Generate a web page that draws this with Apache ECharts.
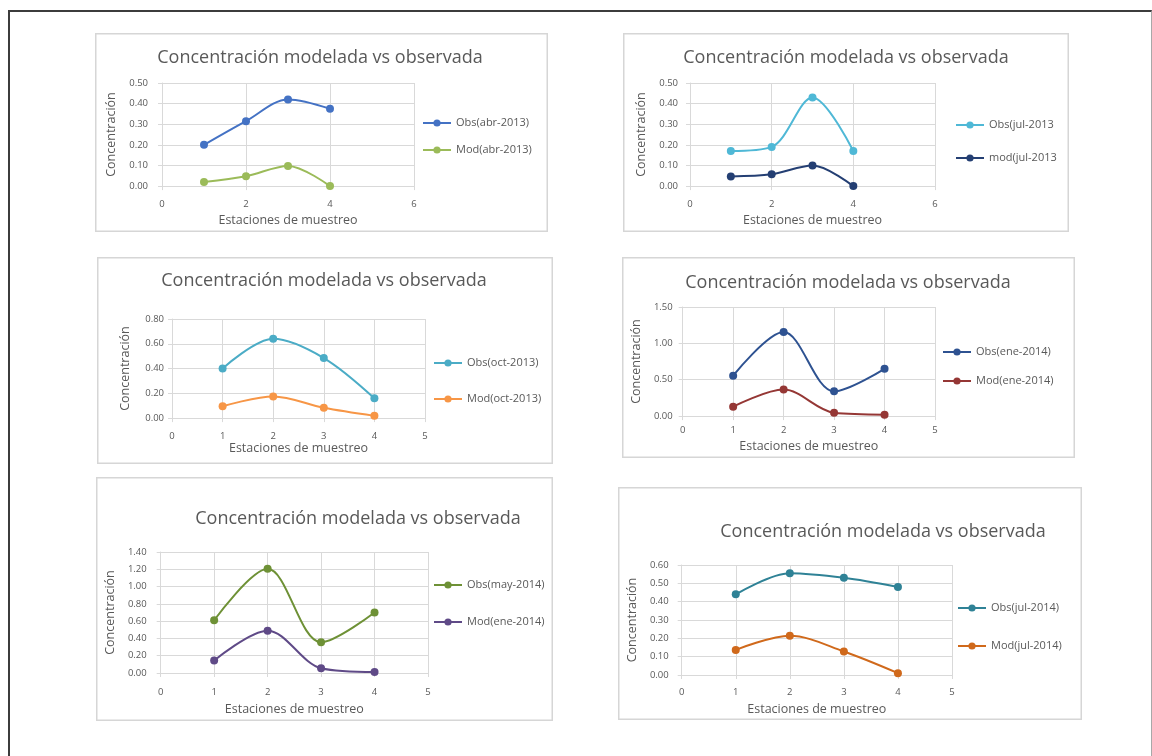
<!DOCTYPE html>
<html>
<head>
<meta charset="utf-8">
<script src="https://cdn.jsdelivr.net/npm/echarts@6/dist/echarts.min.js"></script>
<style>
html,body{margin:0;padding:0;background:#fff;width:1152px;height:756px;overflow:hidden;position:relative}
#frame{position:absolute;left:8px;top:10px;width:1144px;height:800px;border-top:2.5px solid #3c3c3c;border-left:2.5px solid #3c3c3c;border-right:1px solid #a8a8a8;box-sizing:border-box}
.panel{position:absolute}
</style>
</head>
<body>
<div id="frame"></div>
<div id="p0" class="panel"></div>
<div id="p1" class="panel"></div>
<div id="p2" class="panel"></div>
<div id="p3" class="panel"></div>
<div id="p4" class="panel"></div>
<div id="p5" class="panel"></div>
<script>
// ---------- data ----------
const stations = [1, 2, 3, 4];
const titleText = 'Concentración modelada vs observada';
const xAxisName = 'Estaciones de muestreo';
const yAxisName = 'Concentración';

const obsAbr2013 = [0.20, 0.315, 0.42, 0.375];
const modAbr2013 = [0.02, 0.048, 0.098, 0.00];
const obsJul2013 = [0.17, 0.19, 0.43, 0.17];
const modJul2013 = [0.047, 0.057, 0.10, 0.00];
const obsOct2013 = [0.40, 0.64, 0.485, 0.16];
const modOct2013 = [0.095, 0.175, 0.083, 0.018];
const obsEne2014 = [0.555, 1.155, 0.34, 0.65];
const modEne2014 = [0.13, 0.365, 0.045, 0.02];
const obsMay2014 = [0.61, 1.205, 0.355, 0.70];
const modEne2014b = [0.145, 0.49, 0.055, 0.012];
const obsJul2014 = [0.44, 0.555, 0.53, 0.48];
const modJul2014 = [0.137, 0.214, 0.128, 0.01];

const seriesValues = [
  [obsAbr2013, modAbr2013],
  [obsJul2013, modJul2013],
  [obsOct2013, modOct2013],
  [obsEne2014, modEne2014],
  [obsMay2014, modEne2014b],
  [obsJul2014, modJul2014]
];
const seriesNames = [
  ['Obs(abr-2013)', 'Mod(abr-2013)'],
  ['Obs(jul-2013', 'mod(jul-2013'],
  ['Obs(oct-2013)', 'Mod(oct-2013)'],
  ['Obs(ene-2014)', 'Mod(ene-2014)'],
  ['Obs(may-2014)', 'Mod(ene-2014)'],
  ['Obs(jul-2014)', 'Mod(jul-2014)']
];
const xMax = [6, 6, 5, 5, 5, 5];
const xInterval = [2, 2, 1, 1, 1, 1];
const yMax = [0.5, 0.5, 0.8, 1.5, 1.4, 0.6];
const yInterval = [0.1, 0.1, 0.2, 0.5, 0.2, 0.1];

// ---------- styles / layout (absolute page pixels) ----------
const colors = [
  ['#4472C4', '#9BBB59'],
  ['#4FB8D6', '#243F73'],
  ['#4BACC6', '#F79646'],
  ['#2E5291', '#953735'],
  ['#6E9136', '#5F4A87'],
  ['#2F8296', '#D0691B']
];
const layout = [
  {box:[95,33,453,199],  gx0:162, gx1:414, gyT:83,  gyB:190, tx:320, ty:58,  lgx:422, lgy:[122,149], yGap:40, yMargin:14, xGap:22, xMargin:13},
  {box:[623,33,446,199], gx0:690, gx1:935, gyT:83,  gyB:190, tx:846, ty:58,  lgx:955, lgy:[124,157], yGap:40, yMargin:12, xGap:22, xMargin:13},
  {box:[97,257,456,207], gx0:172, gx1:425, gyT:319, gyB:425, tx:324, ty:281, lgx:433, lgy:[362,398], yGap:40, yMargin:8,  xGap:21, xMargin:13},
  {box:[622,257,453,201],gx0:678, gx1:935, gyT:307, gyB:422, tx:848, ty:283, lgx:942, lgy:[351,380], yGap:36, yMargin:10, xGap:17, xMargin:9},
  {box:[96,477,457,244], gx0:154, gx1:428, gyT:552, gyB:673, tx:358, ty:519, lgx:433, lgy:[584,621], yGap:39, yMargin:14, xGap:30, xMargin:14},
  {box:[618,487,464,233],gx0:678, gx1:952, gyT:565, gyB:675, tx:883, ty:532, lgx:957, lgy:[607,645], yGap:39, yMargin:13, xGap:28, xMargin:12}
];
const FONT = '"Open Sans", "Liberation Sans", sans-serif';
const TXT = '#595959';
const GRID = '#d9d9d9';

layout.forEach((L, i) => {
  const [bx, by, bw, bh] = L.box;
  const div = document.getElementById('p' + i);
  div.style.left = bx + 'px';
  div.style.top = by + 'px';
  div.style.width = bw + 'px';
  div.style.height = bh + 'px';
  const chart = echarts.init(div, null, {renderer: 'canvas', width: bw, height: bh});
  const names = seriesNames[i];
  const vals = seriesValues[i];
  const option = {
    animation: false,
    textStyle: {fontFamily: FONT},
    graphic: [
      {type: 'rect', silent: true, shape: {x: 0.75, y: 0.75, width: bw - 1.5, height: bh - 1.5},
       style: {fill: 'none', stroke: '#d6d6d6', lineWidth: 1.5}},
      {type: 'text', silent: true, x: L.tx - bx, y: L.ty - by,
       style: {text: titleText, fontSize: 18, fontFamily: FONT, fill: TXT, align: 'center', verticalAlign: 'middle'}}
    ],
    grid: {left: L.gx0 - bx, top: L.gyT - by, width: L.gx1 - L.gx0, height: L.gyB - L.gyT},
    legend: [0, 1].map(k => ({
      data: [names[k]], orient: 'vertical', left: L.lgx - bx, top: L.lgy[k] - by - 4.5,
      itemWidth: 28, itemHeight: 9, itemGap: 0, padding: 0, selectedMode: false,
      textStyle: {fontSize: 11, color: TXT, fontFamily: FONT}
    })),
    xAxis: {
      type: 'value', min: 0, max: xMax[i], interval: xInterval[i],
      name: xAxisName, nameLocation: 'middle', nameGap: L.xGap,
      nameTextStyle: {fontSize: 12.5, color: TXT, fontFamily: FONT},
      axisLine: {show: true, lineStyle: {color: GRID, width: 1}},
      axisTick: {show: true, length: 4, lineStyle: {color: GRID}},
      axisLabel: {margin: L.xMargin, fontSize: 9.5, color: TXT, fontFamily: FONT},
      splitLine: {show: true, lineStyle: {color: GRID, width: 1}}
    },
    yAxis: {
      type: 'value', min: 0, max: yMax[i], interval: yInterval[i],
      name: yAxisName, nameLocation: 'middle', nameGap: L.yGap, nameRotate: 90,
      nameTextStyle: {fontSize: 12.5, color: TXT, fontFamily: FONT},
      axisLine: {show: true, lineStyle: {color: GRID, width: 1}},
      axisTick: {show: true, length: 4, lineStyle: {color: GRID}},
      axisLabel: {margin: L.yMargin, fontSize: 9.5, color: TXT, fontFamily: FONT,
                  formatter: v => v.toFixed(2)},
      splitLine: {show: true, lineStyle: {color: GRID, width: 1}}
    },
    series: [0, 1].map(k => ({
      type: 'line', name: names[k],
      data: stations.map((s, j) => [s, vals[k][j]]),
      smooth: 0.33, symbol: 'circle', symbolSize: 8,
      lineStyle: {width: 2, color: colors[i][k]},
      itemStyle: {color: colors[i][k]}
    }))
  };
  chart.setOption(option);
});
</script>
</body>
</html>
